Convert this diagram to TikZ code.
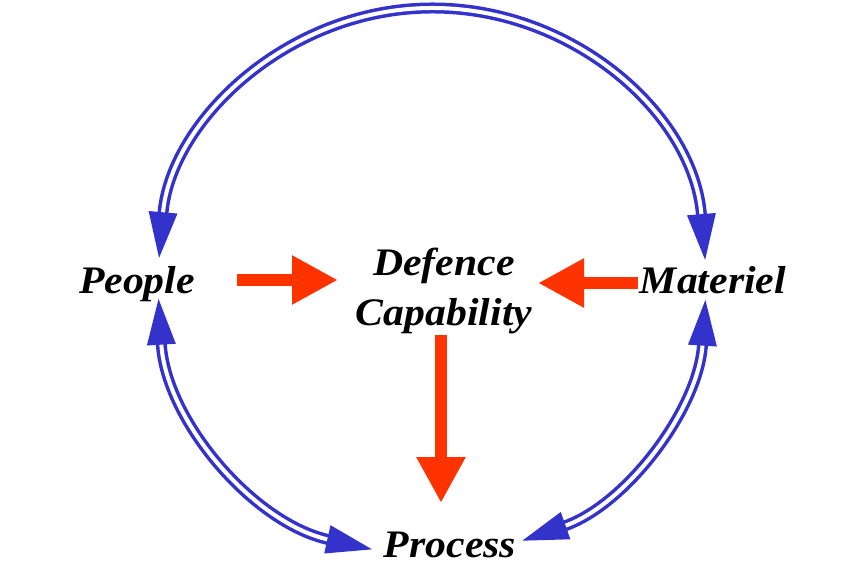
\documentclass[tikz,border=0pt]{standalone}
\usepackage{fontspec}
\setmainfont{Liberation Serif}
\usetikzlibrary{positioning}
\usetikzlibrary {arrows.meta}
\definecolor{ringblue}{RGB}{51,51,204}
\definecolor{pushred}{RGB}{255,51,0}
\tikzset{pillar/.style={rectangle,draw=none,anchor=base,xscale=1.07,transform shape,
inner sep=2pt,align=center,font=\fontsize{39}{51}\selectfont\bfseries\itshape}}
\tikzset{ringarrow/.style={draw=ringblue,double=white,double distance=4pt,line width=3.5pt,
{Triangle[length=46pt,width=28pt]}-{Triangle[length=46pt,width=28pt]}}}
\tikzset{pusharrow/.style={draw=pushred,line width=12pt,-{Triangle[length=46pt,width=46pt]}}}

\begin{document}
\begin{tikzpicture}[x=1pt,y=1pt]
    \useasboundingbox (0,0) rectangle (856,584);

        \coordinate (hub) at (432,302);

        % points on the ring where the arrow tips sit
        \coordinate (peopleTop) at ([shift={(175:274)}]hub);
        \coordinate (peopleBot) at ([shift={(183.5:274)}]hub);
        \coordinate (procLeft) at ([shift={(257.4:274)}]hub);
        \coordinate (procRight) at ([shift={(289.2:274)}]hub);
        \coordinate (matBot) at ([shift={(356.3:274)}]hub);
        \coordinate (matTop) at ([shift={(4.6:274)}]hub);

        \draw[ringarrow] (matTop) arc[start angle=4.6,end angle=175,radius=274];
        \draw[ringarrow] (peopleBot) arc[start angle=183.5,end angle=257.4,radius=274];
        \draw[ringarrow] (procRight) arc[start angle=289.2,end angle=356.3,radius=274];

        \node[pillar] (boxCap) at (444,258) {Defence\\Capability};
        \node[pillar] (boxPeople) at (137,290) {People};
        \node[pillar] (boxMat) at (713,290) {Materiel};
        \node[pillar] (boxProc) at (450,27) {Process};

        \coordinate (boxPeopler) at (237,304);
        \coordinate (boxCapl) at (338,304);
        \coordinate (boxMatl) at (638,301);
        \coordinate (boxCapr) at (538,301);
        \coordinate (boxCapb) at (441,249);
        \coordinate (boxProct) at (441,81);

        \draw[pusharrow] (boxPeopler) -- (boxCapl);
        \draw[pusharrow] (boxMatl) -- (boxCapr);
        \draw[pusharrow] (boxCapb) -- (boxProct);

\end{tikzpicture}
\end{document}
